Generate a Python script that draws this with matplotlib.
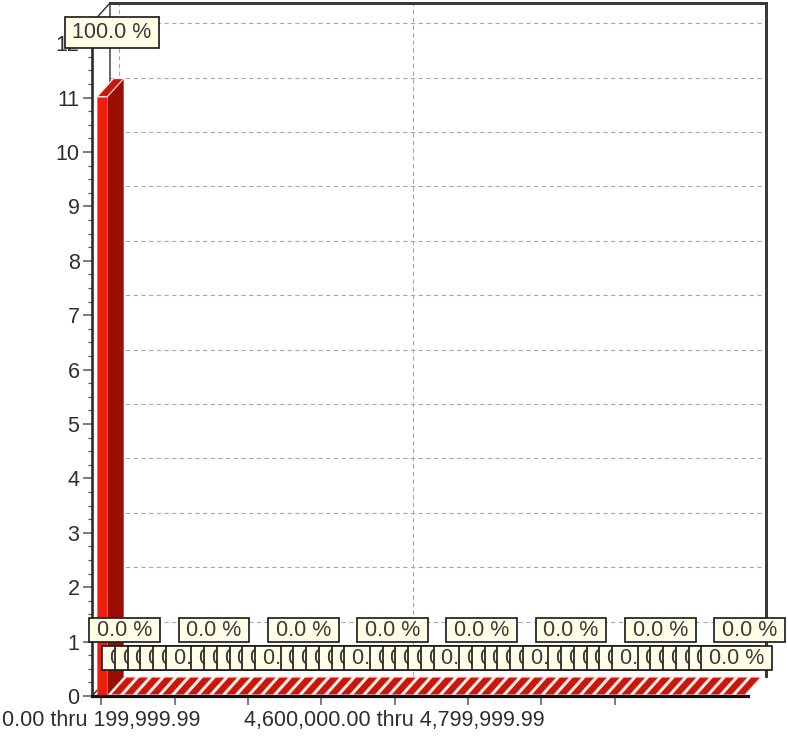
import numpy as np
import matplotlib
matplotlib.use("Agg")
import matplotlib.pyplot as plt
import matplotlib.transforms as mtransforms
from matplotlib.patches import Polygon
from matplotlib.lines import Line2D
from matplotlib.path import Path
from matplotlib.ticker import MultipleLocator

# ---- data: histogram of amounts in 200,000 bins ----
bin_width = 200000
bin_lower = [i * bin_width for i in range(51)]
counts = [11] + [0] * 50
y_ticks = list(range(13))
x_label_bins = [0, 23]          # bins whose range is printed under the axis
x_tick_step = 5.75              # spacing of the axis tick marks (in bins)

plt.rcParams['font.family'] = ['Liberation Sans', 'DejaVu Sans']

W, H, DPI = 788, 744, 100
PT = 72.0 / DPI                 # points per pixel
fig = plt.figure(figsize=(W / DPI, H / DPI), dpi=DPI)
ax = fig.add_axes([92 / W, 48 / H, 656 / W, 673 / H])
n = len(counts)
XL, XR = -0.745, n - 0.29
YMAX = 12.37
ax.set_xlim(XL, XR)
ax.set_ylim(0, YMAX)
ax.patch.set_visible(False)

# depth of the 3D box in pixels (right, up)
DX, DY = 18, 20
ID = mtransforms.IdentityTransform()


def P(x, y, d):
    """Display position of data point (x, y) pushed back by fraction d of the depth."""
    px, py = ax.transData.transform((x, y))
    return (px + d * DX, py + d * DY)


def poly(pts, fc, ec='none', lw=0.0, z=1):
    ax.add_patch(Polygon(pts, closed=True, facecolor=fc, edgecolor=ec,
                         linewidth=lw * PT, transform=ID, clip_on=False, zorder=z))


def seg(a, b, color, lw, z=1, dashes=None):
    ln = Line2D([a[0], b[0]], [a[1], b[1]], color=color, linewidth=lw * PT,
                transform=ID, clip_on=False, zorder=z)
    if dashes is not None:
        ln.set_dashes(dashes)
    ax.add_line(ln)


# ---- walls ----
poly([P(XL, 0, 1), P(XR, 0, 1), P(XR, YMAX, 1), P(XL, YMAX, 1)], 'white', z=0.5)
poly([P(XL, 0, 0), P(XL, 0, 1), P(XL, YMAX, 1), P(XL, YMAX, 0)], 'white', z=0.5)
poly([P(XL, 0, 0), P(XR, 0, 0), P(XR, 0, 1), P(XL, 0, 1)], 'white', z=0.5)

grid_c = '#a9a9a9'
for v in y_ticks[1:]:
    seg(P(XL, v, 1), P(XR, v, 1), grid_c, 1.1, z=0.8, dashes=(4, 3))
for c in x_label_bins:
    seg(P(c, 0, 1), P(c, YMAX, 1), grid_c, 1.1, z=0.8, dashes=(4, 3))

edge_c = '#3a3a3a'
seg(P(XL, YMAX, 1), P(XR, YMAX, 1), edge_c, 3.0, z=0.9)
seg(P(XR, 0, 1), P(XR, YMAX, 1), edge_c, 3.0, z=0.9)
seg(P(XL, 0, 1), P(XL, YMAX, 1), edge_c, 1.5, z=0.9)
seg(P(XL, YMAX, 0), P(XL, YMAX, 1), edge_c, 1.5, z=0.9)
seg(P(XL, 0, 0), P(XL, 0, 1), edge_c, 1.5, z=0.9)

# ---- 3D bars ----
half = 0.4
f0, f1 = 0.05, 0.95
for c, v in enumerate(counts):
    x0, x1 = c - half, c + half
    if v > 0:
        poly([P(x1, 0, f0), P(x1, 0, f1), P(x1, v, f1), P(x1, v, f0)], '#9c0e02', z=2)
        poly([P(x0, 0, f0), P(x1, 0, f0), P(x1, v, f0), P(x0, v, f0)], '#ee1d0c',
             ec='#f36a5c', lw=0.8, z=2.1)
    poly([P(x0, v, f0), P(x1, v, f0), P(x1, v, f1), P(x0, v, f1)], '#c9170b',
         ec='#fbe3e0', lw=1.2, z=2.2)

# ---- axes: front edges and ticks ----
for s in ('top', 'right'):
    ax.spines[s].set_visible(False)
ax.spines['left'].set_color('#2a2a2a')
ax.spines['left'].set_linewidth(2.6 * PT)
ax.spines['bottom'].set_color('#111111')
ax.spines['bottom'].set_linewidth(3.2 * PT)
for s in ('left', 'bottom'):
    ax.spines[s].set_zorder(5)

ax.set_yticks(y_ticks)
ax.set_yticklabels([str(t) for t in y_ticks])
ax.yaxis.set_minor_locator(MultipleLocator(0.25))

x_ticks = np.arange(0, 41, x_tick_step)


def bin_label(i):
    lo = bin_lower[i]
    hi = lo + bin_width - 0.01
    return f"{lo:,.2f} thru {hi:,.2f}"


x_labels = [bin_label(int(t)) if float(t).is_integer() and int(t) in x_label_bins else ''
            for t in x_ticks]
ax.set_xticks(x_ticks)
ax.set_xticklabels(x_labels)

tick_c = '#555555'
ax.tick_params(axis='both', which='major', direction='out', length=9 * PT,
               width=1.5 * PT, color=tick_c, labelsize=15.5, labelcolor='#2e2e2e')
ax.tick_params(axis='y', which='major', pad=2.5)
ax.tick_params(axis='x', which='major', pad=3.5)
ax.tick_params(axis='y', which='minor', direction='out', length=4.5 * PT,
               width=1.2 * PT, color=tick_c)


# ---- percentage labels ----
def make_box(fx, fy):
    def label_box(x0, y0, width, height, mutation_size):
        padx = fx * mutation_size
        pady = fy * mutation_size
        xa, ya = x0 - padx, y0 - pady
        xb, yb = x0 + width + padx, y0 + height + pady
        return Path([(xa, ya), (xb, ya), (xb, yb), (xa, yb), (xa, ya)],
                    [Path.MOVETO, Path.LINETO, Path.LINETO, Path.LINETO, Path.CLOSEPOLY])
    return label_box


total = sum(counts)
pct = [100.0 * v / total for v in counts]
upper = [c for c in range(n) if c == 0 or (c - 1) % 7 == 0]
lower = [c for c in range(n) if c not in upper]
order = [c for c in upper if c != 0] + lower + [0]
for k, c in enumerate(order):
    rise = 66 if c in upper else 38
    style = make_box(0.36, 0.22) if c == 0 else make_box(0.36, 0.07)
    ax.annotate(f"{pct[c]:.1f} %", xy=(c, counts[c]), xytext=(10.5 * PT, (rise - 1) * PT if c == 0 else rise * PT),
                textcoords='offset points', ha='center', va='center',
                fontsize=15.5, color='#3a3a3a', zorder=10 + k * 0.01,
                annotation_clip=False,
                bbox=dict(boxstyle=style, facecolor='#fffde6',
                          edgecolor='#1c1c1c', linewidth=1.7 * PT))

fig.savefig('out.png', dpi=DPI, facecolor='white')
